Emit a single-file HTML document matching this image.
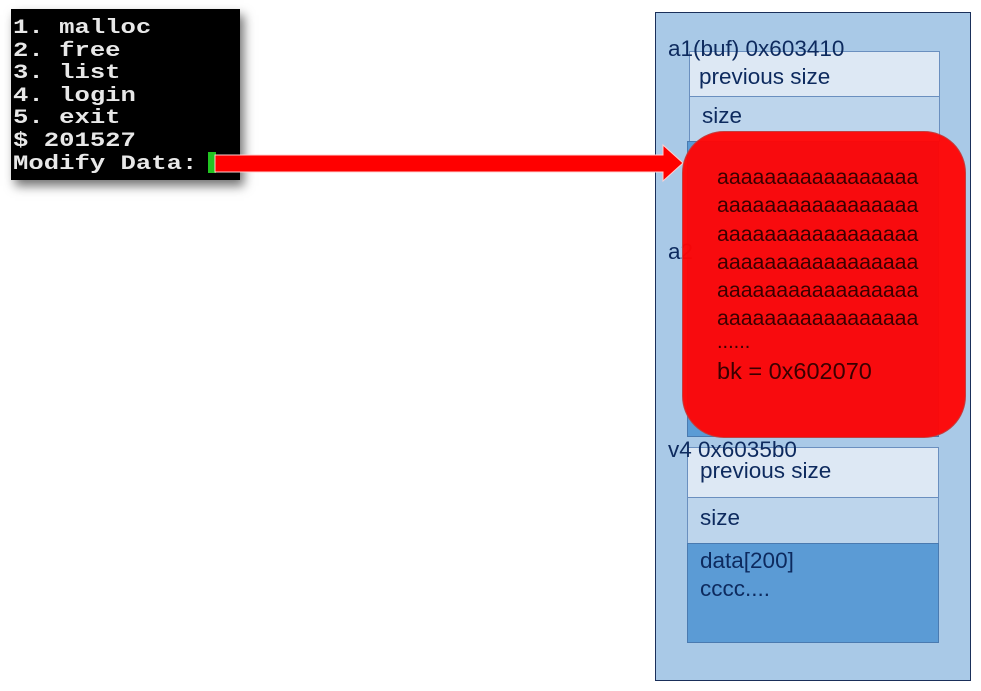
<!DOCTYPE html>
<html><head><meta charset="utf-8"><style>
body{margin:0;width:981px;height:691px;background:#fff;position:relative;overflow:hidden;font-family:"Liberation Sans","NanumGothic",sans-serif;}
.a{position:absolute;box-sizing:border-box;}
.t{position:absolute;white-space:nowrap;color:#0d2a5e;font-size:22.5px;line-height:24px;}
.term{left:11px;top:9px;width:229px;height:171px;background:#000;box-shadow:4px 6px 10px rgba(0,0,0,0.55);}
.term div{position:absolute;left:2px;color:#e8e8e8;font-family:"Liberation Mono","DejaVu Sans Mono",monospace;font-size:20px;font-weight:bold;line-height:22px;white-space:nowrap;transform:scaleX(1.28);transform-origin:0 0;}
</style></head><body>
<div class="a term">
<div style="top:9px">1. malloc</div>
<div style="top:32px">2. free</div>
<div style="top:54px">3. list</div>
<div style="top:77px">4. login</div>
<div style="top:99px">5. exit</div>
<div style="top:122px">$ 201527</div>
<div style="top:145px">Modify Data:</div>
</div>
<div class="a" style="left:208px;top:152px;width:8px;height:21px;background:#22c422"></div>

<div class="a" style="left:655px;top:12px;width:316px;height:669px;background:#a9c9e7;border:1px solid #1a2f5a"></div>
<div class="a" style="left:689px;top:51px;width:251px;height:46px;background:#dde8f4;border:1px solid #6a8fbf"></div>
<div class="a" style="left:689px;top:96px;width:251px;height:46px;background:#bdd5ec;border:1px solid #6a8fbf"></div>
<div class="a" style="left:687px;top:141px;width:252px;height:296px;background:#5b9bd5;border:1px solid #4a7ab0"></div>
<div class="t" style="left:668px;top:37px">a1(buf) 0x603410</div>
<div class="t" style="left:699px;top:65px">previous size</div>
<div class="t" style="left:702px;top:104px">size</div>
<div class="t" style="left:668px;top:240px">a2</div>

<div class="a" style="left:687px;top:447px;width:252px;height:51px;background:#dde8f4;border:1px solid #6a8fbf"></div>
<div class="a" style="left:687px;top:497px;width:252px;height:47px;background:#bdd5ec;border:1px solid #6a8fbf"></div>
<div class="a" style="left:687px;top:543px;width:252px;height:100px;background:#5b9bd5;border:1px solid #4a7ab0"></div>
<div class="t" style="left:668px;top:438px">v4 0x6035b0</div>
<div class="t" style="left:700px;top:459px">previous size</div>
<div class="t" style="left:700px;top:506px">size</div>
<div class="t" style="left:700px;top:549px">data[200]</div>
<div class="t" style="left:700px;top:577px">cccc....</div>

<svg class="a" style="left:0;top:0" width="981" height="691">
<polygon points="215,155 663,155 663,145 683,163 663,181 663,172 215,172" fill="#ff0000" stroke="#ffd0d0" stroke-width="1"/>
</svg>

<div class="a" style="left:682px;top:131px;width:284px;height:307px;background:rgba(255,5,5,0.96);border:1px solid #c04040;border-radius:42px"></div>
<div class="t" style="left:717px;top:163px;color:#3a0000;font-size:21.3px;line-height:28.3px">aaaaaaaaaaaaaaaaa<br>aaaaaaaaaaaaaaaaa<br>aaaaaaaaaaaaaaaaa<br>aaaaaaaaaaaaaaaaa<br>aaaaaaaaaaaaaaaaa<br>aaaaaaaaaaaaaaaaa</div>
<div class="t" style="left:717px;top:330px;color:#3a0000;font-size:20px">......</div>
<div class="t" style="left:717px;top:359px;color:#3a0000;font-size:23.5px">bk = 0x602070</div>
</body></html>
